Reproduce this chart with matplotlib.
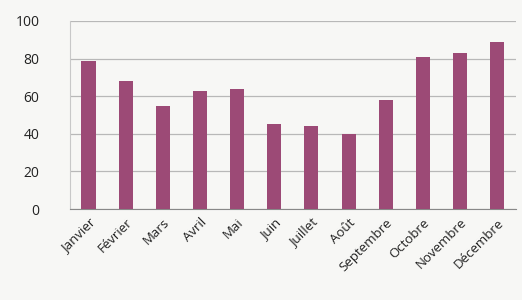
import matplotlib
matplotlib.use("Agg")
import matplotlib.pyplot as plt

# monthly values
months = ["Janvier", "Février", "Mars", "Avril", "Mai", "Juin",
          "Juillet", "Août", "Septembre", "Octobre", "Novembre", "Décembre"]
values = [79, 68, 55, 63, 64, 45, 44, 40, 58, 81, 83, 89]
yticks = [0, 20, 40, 60, 80, 100]

plt.rcParams["font.family"] = ["Open Sans", "DejaVu Sans"]

fig = plt.figure(figsize=(5.22, 3.0), dpi=100, facecolor="#f7f7f5")
ax = fig.add_axes([0.134, 0.303, 0.854, 0.627])
ax.set_facecolor("#f7f7f5")

x = list(range(len(months)))
ax.bar(x, values, width=0.38, color="#9c4a76", zorder=3)

ax.set_ylim(0, 100)
ax.set_xlim(-0.5, len(months) - 0.5)
ax.set_yticks(yticks)
ax.yaxis.grid(True, color="#b8b8b8", linewidth=0.9, zorder=0)
ax.set_xticks(x)
ax.set_xticklabels(months, rotation=45, ha="right", rotation_mode="anchor",
                   fontsize=9.5, color="#222222")
ax.tick_params(axis="y", labelsize=10, colors="#222222", length=0, pad=22)
ax.tick_params(axis="x", length=0, pad=5)

for side in ["top", "right"]:
    ax.spines[side].set_visible(False)
ax.spines["left"].set_color("#c8c8c8")
ax.spines["bottom"].set_color("#888888")

fig.savefig("out.png", dpi=100, facecolor=fig.get_facecolor())
